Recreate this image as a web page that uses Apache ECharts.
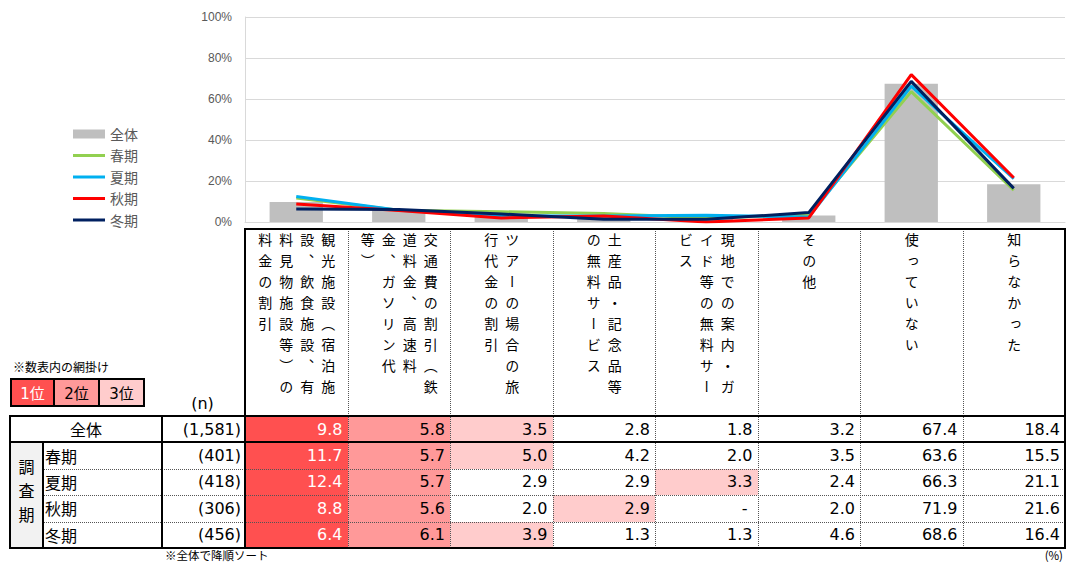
<!DOCTYPE html>
<html>
<head>
<meta charset="utf-8">
<script src="https://cdn.jsdelivr.net/npm/echarts@6/dist/echarts.min.js"></script>
<style>
  html, body { margin: 0; padding: 0; background: #fff; }
  #wrap { position: relative; width: 1069px; height: 563px; overflow: hidden; font-family: "DejaVu Sans", "Noto Sans CJK JP", sans-serif; color: #000; }
  #chart { position: absolute; left: 0; top: 0; width: 1069px; height: 563px; }
  .box { position: absolute; box-sizing: border-box; display: flex; align-items: center; white-space: nowrap; }
  .head { position: absolute; box-sizing: border-box; display: flex; justify-content: center; align-items: flex-start; padding-top: 4px; }
  .head span { writing-mode: vertical-rl; font-family: "Noto Sans CJK JP", sans-serif; font-size: 14px; letter-spacing: 7px; line-height: 21px; white-space: nowrap; }
  .solid { position: absolute; background: #000; }
  .dot-h { position: absolute; height: 0; border-top: 1px dotted #555; }
  .dot-v { position: absolute; width: 0; border-left: 1px dotted #555; }
  .note { position: absolute; font-family: "Noto Sans CJK JP", sans-serif; font-size: 12px; line-height: 12px; white-space: nowrap; }
</style>
</head>
<body>
<div id="wrap">
  <div id="chart"></div>
</div>
<script>
// header text, one string per vertical column of the header cell
const headerLines = [
  ['観光施設（宿泊施', '設、飲食施設、有', '料見物施設等）の', '料金の割引'],
  ['交通費の割引（鉄', '道料金、高速料', '金、ガソリン代', '等）'],
  ['ツアーの場合の旅', '行代金の割引'],
  ['土産品・記念品等', 'の無料サービス'],
  ['現地での案内・ガ', 'イド等の無料サー', 'ビス'],
  ['その他'],
  ['使っていない'],
  ['知らなかった']
];
const categories = headerLines.map(l => l.join(''));

const overall = [9.8, 5.8, 3.5, 2.8, 1.8, 3.2, 67.4, 18.4];
const spring  = [11.7, 5.7, 5.0, 4.2, 2.0, 3.5, 63.6, 15.5];
const summer  = [12.4, 5.7, 2.9, 2.9, 3.3, 2.4, 66.3, 21.1];
const autumn  = [8.8, 5.6, 2.0, 2.9, 0, 2.0, 71.9, 21.6];
const winter  = [6.4, 6.1, 3.9, 1.3, 1.3, 4.6, 68.6, 16.4];

const rowNames = ['全体', '春期', '夏期', '秋期', '冬期'];
const sampleSizes = [1581, 401, 418, 306, 456];
const yTicks = [0, 20, 40, 60, 80, 100];
const rankedCount = 5; // only the first 5 items are ranked

const rowValues = [overall, spring, summer, autumn, winter];
const seasonColors = ['#92d050', '#00b0f0', '#ff0000', '#002060'];
const rankColors = ['#ff5050', '#ff9999', '#ffcccc'];
const lineIcon = 'path://M0,0H32V3H0Z';

const chart = echarts.init(document.getElementById('chart'), null, { renderer: 'svg' });

const lineSeries = rowNames.slice(1).map((name, i) => ({
  name: name,
  type: 'line',
  data: rowValues[i + 1],
  symbol: 'none',
  lineStyle: { width: 3, color: seasonColors[i] },
  itemStyle: { color: seasonColors[i] },
  z: 3 + i
}));

chart.setOption({
  animation: false,
  grid: { left: 245, right: 4, top: 17, bottom: 341 },
  legend: {
    orient: 'vertical',
    left: 68,
    top: 122,
    itemWidth: 32,
    itemHeight: 9,
    itemGap: 7.5,
    textStyle: { fontSize: 14, color: '#595959', fontFamily: '"Noto Sans CJK JP", sans-serif' },
    data: [{ name: '全体', icon: 'rect' }].concat(rowNames.slice(1).map(n => ({ name: n, icon: lineIcon })))
  },
  xAxis: {
    type: 'category',
    data: categories,
    axisLine: { show: true, lineStyle: { color: '#d9d9d9' } },
    axisTick: { show: false },
    axisLabel: { show: false }
  },
  yAxis: {
    type: 'value',
    min: yTicks[0],
    max: yTicks[yTicks.length - 1],
    interval: yTicks[1] - yTicks[0],
    axisLine: { show: true, lineStyle: { color: '#d9d9d9' } },
    axisTick: { show: false },
    axisLabel: { formatter: '{value}%', color: '#595959', fontSize: 12, margin: 13, fontFamily: '"Liberation Sans", sans-serif' },
    splitLine: { lineStyle: { color: '#d9d9d9' } }
  },
  series: [
    {
      name: '全体',
      type: 'bar',
      data: overall,
      barWidth: '52%',
      itemStyle: { color: '#bfbfbf' },
      z: 2
    },
    ...lineSeries
  ]
});

// ---- table under the chart, columns taken from the x axis ----
const wrap = document.getElementById('wrap');

function add(cls, css, html) {
  const d = document.createElement('div');
  d.className = cls;
  Object.assign(d.style, css);
  if (html !== undefined) d.innerHTML = html;
  wrap.appendChild(d);
  return d;
}

const c0 = chart.convertToPixel({ xAxisIndex: 0 }, 0);
const c1 = chart.convertToPixel({ xAxisIndex: 0 }, 1);
const band = c1 - c0;
const colLeft = categories.map((_, i) => chart.convertToPixel({ xAxisIndex: 0 }, i) - band / 2);
const tableRight = colLeft[colLeft.length - 1] + band;

const headTop = 229;
const bodyTop = 416;
const rowH = 26.4;
const bodyBottom = bodyTop + rowH * rowNames.length;
const xLeft = 10, xGroup = 43, xName = 162, xN = colLeft[0];

// header cells
headerLines.forEach((lines, i) => {
  add('head', { left: colLeft[i] + 'px', top: headTop + 'px', width: band + 'px', height: (bodyTop - headTop) + 'px' },
    '<span>' + lines.join('<br>') + '</span>');
});

// ranks among the first items of each row
function ranksOf(values) {
  const idx = values.slice(0, rankedCount).map((v, i) => i).sort((a, b) => values[b] - values[a]);
  const r = {};
  idx.slice(0, 3).forEach((k, j) => { r[k] = j; });
  return r;
}

rowValues.forEach((vals, r) => {
  const top = bodyTop + r * rowH;
  const ranks = ranksOf(vals);
  // sample size
  add('box', { left: xName + 'px', top: top + 'px', width: (xN - xName) + 'px', height: rowH + 'px',
    justifyContent: 'flex-end', paddingRight: '4px', fontSize: '16px' },
    '(' + sampleSizes[r].toLocaleString('en-US') + ')');
  vals.forEach((v, i) => {
    const rk = ranks[i];
    add('box', { left: colLeft[i] + 'px', top: top + 'px', width: band + 'px', height: rowH + 'px',
      justifyContent: 'flex-end', paddingRight: '5px', fontSize: '16px',
      background: rk !== undefined ? rankColors[rk] : 'transparent',
      color: rk === 0 ? '#fff' : '#000' },
      v === 0 ? '-&nbsp;' : v.toFixed(1));
  });
  if (r === 0) {
    add('box', { left: xLeft + 'px', top: top + 'px', width: (xName - xLeft) + 'px', height: rowH + 'px',
      justifyContent: 'center', fontSize: '16px', fontFamily: '"Noto Sans CJK JP", sans-serif' }, rowNames[r]);
  } else {
    add('box', { left: xGroup + 'px', top: top + 'px', width: (xName - xGroup) + 'px', height: rowH + 'px',
      paddingLeft: '2px', fontSize: '16px', fontFamily: '"Noto Sans CJK JP", sans-serif' }, rowNames[r]);
  }
});

// group cell
add('box', { left: xLeft + 'px', top: (bodyTop + rowH) + 'px', width: (xGroup - xLeft) + 'px', height: (rowH * 4) + 'px',
  justifyContent: 'center', background: '#f2f2f2', fontSize: '16px', fontFamily: '"Noto Sans CJK JP", sans-serif' },
  '<span style="writing-mode:vertical-rl;letter-spacing:8px;line-height:16px;">調査期</span>');

// (n)
add('box', { left: xName + 'px', top: '392px', width: (xN - xName - 2) + 'px', height: '22px', justifyContent: 'center', fontSize: '16px' }, '(n)');

// lines
function hSolid(x1, x2, y) { add('solid', { left: x1 + 'px', top: (y - 1) + 'px', width: (x2 - x1 + 1) + 'px', height: '2px' }); }
function vSolid(x, y1, y2) { add('solid', { left: (x - 1) + 'px', top: (y1 - 1) + 'px', width: '2px', height: (y2 - y1 + 2) + 'px' }); }
function hDot(x1, x2, y) { add('dot-h', { left: x1 + 'px', top: y + 'px', width: (x2 - x1) + 'px' }); }
function vDot(x, y1, y2) { add('dot-v', { left: x + 'px', top: y1 + 'px', height: (y2 - y1) + 'px' }); }

for (let i = 1; i < categories.length; i++) vDot(colLeft[i], headTop, bodyBottom);
for (let r = 2; r < rowNames.length; r++) hDot(xGroup, tableRight, bodyTop + r * rowH);
hSolid(xN, tableRight, headTop);
hSolid(xLeft, tableRight, bodyTop);
hSolid(xLeft, tableRight, bodyTop + rowH);
hSolid(xLeft, tableRight, bodyBottom);
vSolid(xLeft, bodyTop, bodyBottom);
vSolid(xGroup, bodyTop + rowH, bodyBottom);
vSolid(xName, bodyTop, bodyBottom);
vSolid(xN, headTop, bodyBottom);
vSolid(tableRight, headTop, bodyBottom);

// rank legend
add('note', { left: '13px', top: '361px' }, '※数表内の網掛け');
['1位', '2位', '3位'].forEach((t, i) => {
  add('box', { left: (10 + i * 45) + 'px', top: '378px', width: '45px', height: '29px', justifyContent: 'center',
    background: rankColors[i], color: i === 0 ? '#fff' : '#000', fontSize: '15px',
    border: '2px solid #000', borderLeftWidth: i === 0 ? '2px' : '0' }, t);
});

// footnotes
add('note', { left: '165px', top: '549px', fontSize: '11.5px' }, '※全体で降順ソート');
add('note', { right: '6px', top: '549px', fontSize: '11.5px' }, '(%)');
</script>
</body>
</html>
